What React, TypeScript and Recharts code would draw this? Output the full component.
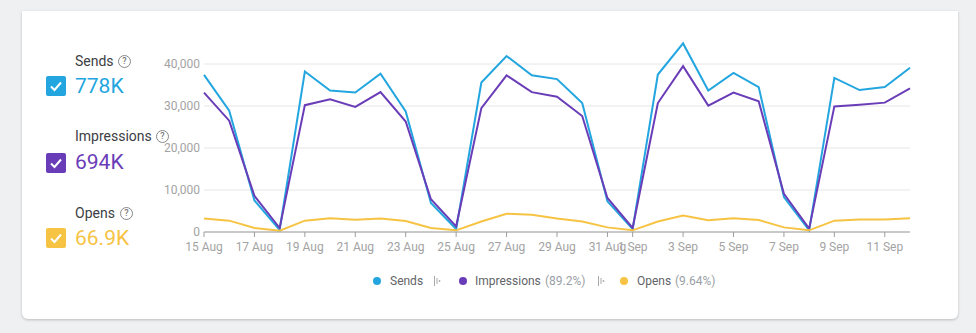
import { LineChart, Line, XAxis, YAxis, CartesianGrid } from 'recharts'

const dates = [
  '15 Aug', '16 Aug', '17 Aug', '18 Aug', '19 Aug', '20 Aug', '21 Aug', '22 Aug',
  '23 Aug', '24 Aug', '25 Aug', '26 Aug', '27 Aug', '28 Aug', '29 Aug', '30 Aug',
  '31 Aug', '1 Sep', '2 Sep', '3 Sep', '4 Sep', '5 Sep', '6 Sep', '7 Sep',
  '8 Sep', '9 Sep', '10 Sep', '11 Sep', '12 Sep',
]

const sends = [
  37400, 28900, 7500, 500, 38200, 33700, 33200, 37700,
  28700, 6900, 700, 35600, 41900, 37300, 36400, 30700,
  7300, 700, 37500, 44900, 33700, 37900, 34500, 8300,
  400, 36700, 33800, 34500, 39100,
]

const impressions = [
  33200, 26500, 8600, 950, 30200, 31600, 29800, 33300,
  26300, 7800, 1350, 29500, 37300, 33300, 32200, 27600,
  8100, 950, 30700, 39500, 30100, 33200, 31100, 9100,
  800, 29900, 30300, 30800, 34200,
]

const opens = [
  3200, 2700, 950, 320, 2700, 3300, 2900, 3200,
  2600, 950, 400, 2500, 4350, 4100, 3200, 2500,
  1100, 400, 2500, 3900, 2800, 3250, 2850, 1100,
  400, 2700, 2950, 3000, 3300,
]

const xTicks = [
  '15 Aug', '17 Aug', '19 Aug', '21 Aug', '23 Aug', '25 Aug', '27 Aug', '29 Aug',
  '31 Aug', '1 Sep', '3 Sep', '5 Sep', '7 Sep', '9 Sep', '11 Sep',
]
const yTicks = [0, 10000, 20000, 30000, 40000]

const seriesNames = ['Sends', 'Impressions', 'Opens']
const totals = ['778K', '694K', '66.9K']
const shares = ['', '(89.2%)', '(9.64%)']
const colors = ['#23a6df', '#6a3db8', '#f6c343']

const data = dates.map((d, i) => ({
  date: d,
  sends: sends[i],
  impressions: impressions[i],
  opens: opens[i],
}))

const font = 'Roboto, Arial, sans-serif'

function HelpIcon({ x, y }: { x: number; y: number }) {
  return (
    <div
      style={{
        position: 'absolute', left: x - 6, top: y - 6, width: 11, height: 11,
        border: '1.2px solid #888', borderRadius: '50%', fontSize: 9, lineHeight: '11px',
        textAlign: 'center', color: '#777', fontFamily: font, fontWeight: 500,
      }}
    >
      ?
    </div>
  )
}

function CheckBox({ x, y, color }: { x: number; y: number; color: string }) {
  return (
    <svg style={{ position: 'absolute', left: x, top: y }} width={20} height={20}>
      <rect x={0} y={0} width={20} height={20} rx={2} fill={color} />
      <polyline points="5,10.5 8.5,14 15,6.5" fill="none" stroke="#fff" strokeWidth={2} />
    </svg>
  )
}

function FilterIcon({ x }: { x: number }) {
  return (
    <svg style={{ position: 'absolute', left: x - 4, top: 276 }} width={8} height={10}>
      <line x1={1.5} y1={0} x2={1.5} y2={10} stroke="#aaa" strokeWidth={1} />
      <line x1={4} y1={2} x2={4} y2={8} stroke="#aaa" strokeWidth={1} />
      <circle cx={6.5} cy={5} r={0.9} fill="#aaa" />
    </svg>
  )
}

const panelRows = [
  { labelTop: 53, help: 124, boxTop: 76, valueTop: 74 },
  { labelTop: 128, help: 162, boxTop: 153, valueTop: 150 },
  { labelTop: 205, help: 126, boxTop: 228, valueTop: 226 },
]

const legendPos = [
  { dot: 377, text: 390, share: 0, icon: 437 },
  { dot: 463, text: 475, share: 545, icon: 601 },
  { dot: 624, text: 637, share: 675, icon: 0 },
]

export default function App() {
  return (
    <div style={{ position: 'absolute', left: 0, top: 0, width: 976, height: 333, background: '#eff0f2', fontFamily: font }}>
      <div
        style={{
          position: 'absolute', left: 22, top: 11, width: 936, height: 308, background: '#fff',
          borderRadius: '0 0 6px 6px', boxShadow: '0 1px 3px rgba(0,0,0,0.22)',
        }}
      />

      {panelRows.map((r, i) => (
        <div key={seriesNames[i]}>
          <div style={{ position: 'absolute', left: 75, top: r.labelTop, fontSize: 14, lineHeight: '16px', color: '#3c4043' }}>
            {seriesNames[i]}
          </div>
          <HelpIcon x={r.help} y={r.labelTop + 8} />
          <CheckBox x={46} y={r.boxTop} color={colors[i]} />
          <div style={{ position: 'absolute', left: 75, top: r.valueTop, fontSize: 21, lineHeight: '24px', color: colors[i] }}>
            {totals[i]}
          </div>
        </div>
      ))}

      <div style={{ position: 'absolute', left: 140, top: 20 }}>
        <LineChart width={790} height={240} data={data} margin={{ top: 23, right: 20, bottom: 0, left: 4 }}>
          <CartesianGrid vertical={false} horizontalValues={yTicks} stroke="#e6e6e6" />
          <XAxis
            dataKey="date"
            ticks={xTicks}
            interval={0}
            height={28}
            tickSize={5}
            tickMargin={5}
            stroke="#9e9e9e"
            tick={{ fill: '#a3a3a3', fontSize: 12, fontFamily: font }}
          />
          <YAxis
            domain={[0, 45000]}
            ticks={yTicks}
            width={60}
            axisLine={false}
            tickLine={false}
            tickSize={2}
            tickMargin={2}
            tickFormatter={(v: number) => v.toLocaleString('en-US')}
            tick={{ fill: '#a3a3a3', fontSize: 12, fontFamily: font }}
          />
          <Line dataKey="sends" stroke={colors[0]} strokeWidth={2} dot={false} isAnimationActive={false} />
          <Line dataKey="impressions" stroke={colors[1]} strokeWidth={2} dot={false} isAnimationActive={false} />
          <Line dataKey="opens" stroke={colors[2]} strokeWidth={2} dot={false} isAnimationActive={false} />
        </LineChart>
      </div>

      {legendPos.map((p, i) => (
        <div key={seriesNames[i]}>
          <div style={{ position: 'absolute', left: p.dot - 4, top: 277, width: 8, height: 8, borderRadius: '50%', background: colors[i] }} />
          <div style={{ position: 'absolute', left: p.text, top: 273, fontSize: 12, lineHeight: '16px', color: '#5f6368', whiteSpace: 'nowrap' }}>
            {seriesNames[i]}
          </div>
          {shares[i] && (
            <div style={{ position: 'absolute', left: p.share, top: 273, fontSize: 12, lineHeight: '16px', color: '#9aa0a6', whiteSpace: 'nowrap' }}>
              {shares[i]}
            </div>
          )}
          {p.icon > 0 && <FilterIcon x={p.icon} />}
        </div>
      ))}
    </div>
  )
}
